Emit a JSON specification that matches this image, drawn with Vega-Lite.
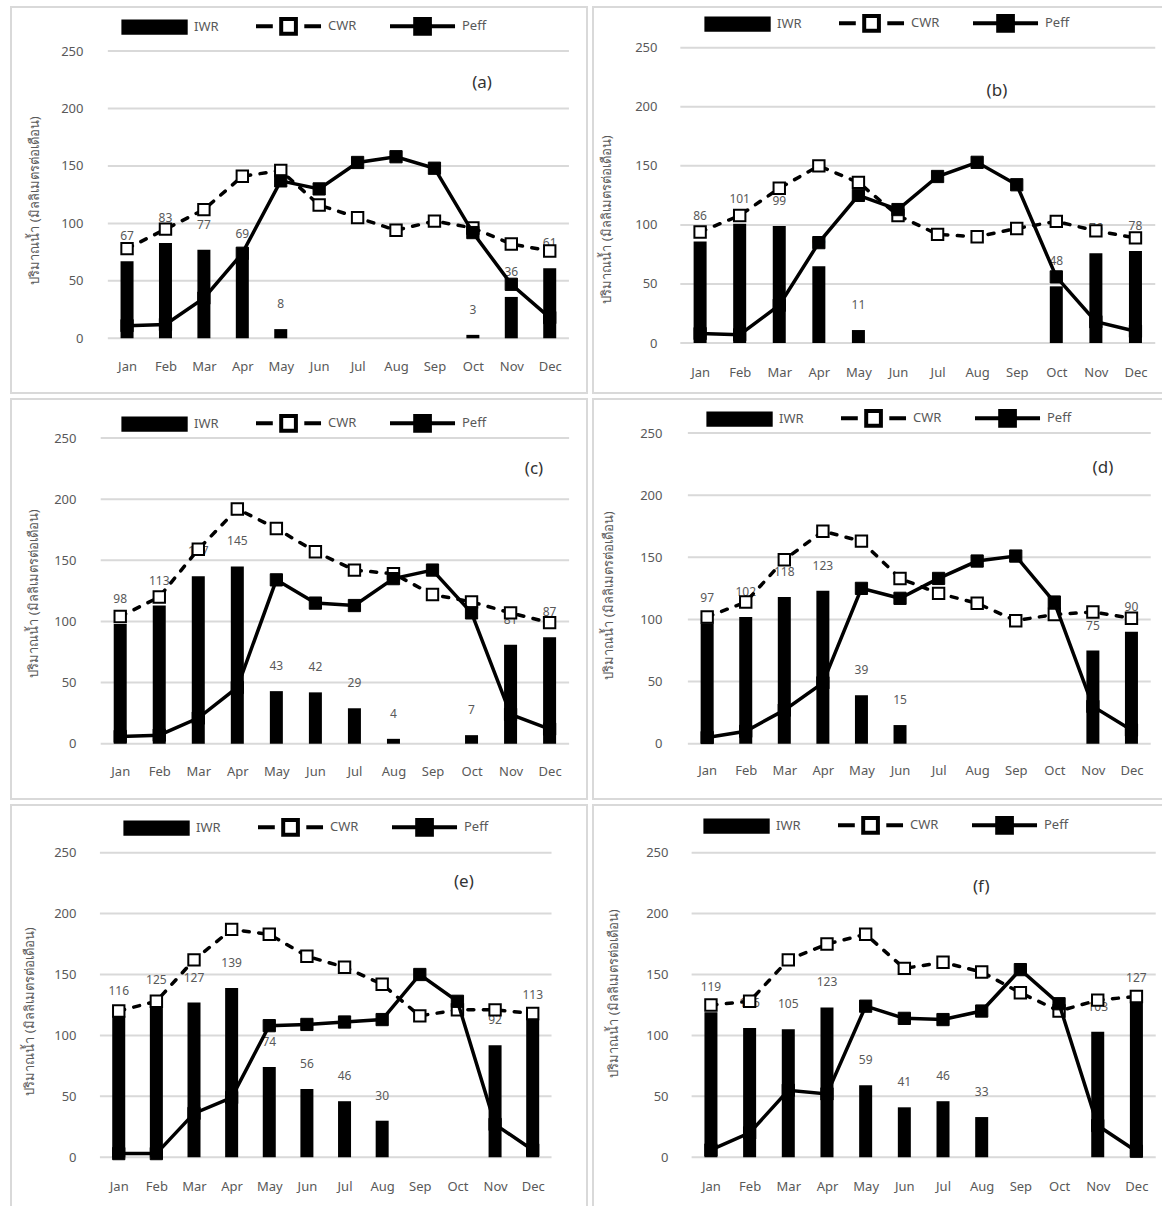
{
  "$schema": "https://vega.github.io/schema/vega-lite/v6.json",
  "padding": {"left": 10, "top": 6, "right": 0, "bottom": 0},
  "background": "white",
  "columns": 2,
  "align": "each",
  "spacing": {"row": 4, "column": 4},
  "resolve": {"scale": {"shape": "independent", "fill": "independent", "stroke": "independent"}, "legend": {"shape": "independent", "fill": "independent", "stroke": "independent"}},
  "config": {
    "font": "Noto Sans",
    "view": {"stroke": "#d9d9d9", "strokeWidth": 2},
    "axis": {"domain": false, "ticks": false, "grid": false, "labelPadding": 0, "labelColor": "#595959", "labelFontSize": 13, "titleColor": "#595959", "titleFontSize": 13, "titleFontWeight": "normal"},
    "axisX": {"labelBaseline": "middle", "labelOverlap": false, "labelFontSize": 13},
    "axisY": {"titleBaseline": "middle", "titleAlign": "center"},
    "legend": {"orient": "none", "direction": "horizontal", "title": null, "symbolSize": 196, "labelFontSize": 13, "labelColor": "#595959", "labelOffset": 56, "columnPadding": 25, "gridAlign": "all", "padding": 0, "symbolOpacity": 1, "symbolStrokeWidth": 4}
  },
  "concat": [
    {
      "width": 576, "height": 386,
      "data": {"values": [
        {"m": 1, "iwr": 67, "cwr": 78, "peff": 11},
        {"m": 2, "iwr": 83, "cwr": 95, "peff": 12},
        {"m": 3, "iwr": 77, "cwr": 112, "peff": 35},
        {"m": 4, "iwr": 69, "cwr": 141, "peff": 74},
        {"m": 5, "iwr": 8, "cwr": 146, "peff": 137},
        {"m": 6, "iwr": 0, "cwr": 116, "peff": 130},
        {"m": 7, "iwr": 0, "cwr": 105, "peff": 153},
        {"m": 8, "iwr": 0, "cwr": 94, "peff": 158},
        {"m": 9, "iwr": 0, "cwr": 102, "peff": 148},
        {"m": 10, "iwr": 3, "cwr": 96, "peff": 92},
        {"m": 11, "iwr": 36, "cwr": 82, "peff": 47},
        {"m": 12, "iwr": 61, "cwr": 76, "peff": 18}
      ]},
      "layer": [
        {"data": {"values": [{"g": 0}, {"g": 50}, {"g": 100}, {"g": 150}, {"g": 200}, {"g": 250}]},
         "mark": {"type": "rule", "color": "#d9d9d9", "strokeWidth": 2},
         "encoding": {
           "x": {"datum": 0.5, "type": "quantitative", "scale": {"domain": [-1.89, 12.84], "nice": false, "zero": false},
                 "axis": {"values": [1,2,3,4,5,6,7,8,9,10,11,12], "labelExpr": "['Jan','Feb','Mar','Apr','May','Jun','Jul','Aug','Sep','Oct','Nov','Dec'][datum.value - 1]", "offset": -27, "title": null}},
           "x2": {"datum": 12.5},
           "y": {"field": "g", "type": "quantitative", "scale": {"domain": [-47.6, 288.3], "nice": false, "zero": false},
                 "axis": {"values": [0,50,100,150,200,250], "offset": -72, "title": "ปริมาณน้ำ (มิลลิเมตรต่อเดือน)", "titleX": -49, "titleY": 193}}
         }},
        {"mark": {"type": "bar", "color": "black", "width": 13, "orient": "vertical"},
         "encoding": {"x": {"field": "m", "type": "quantitative"}, "y": {"field": "iwr", "type": "quantitative"}}},
        {"transform": [{"filter": "datum.iwr > 0"}],
         "mark": {"type": "text", "dy": -25, "fontSize": 12, "color": "#595959"},
         "encoding": {"x": {"field": "m", "type": "quantitative"}, "y": {"field": "iwr", "type": "quantitative"}, "text": {"field": "iwr"}}},
        {"mark": {"type": "line", "color": "black", "strokeWidth": 3.5, "strokeDash": [6, 9.5], "strokeCap": "round"},
         "encoding": {"x": {"field": "m", "type": "quantitative"}, "y": {"field": "cwr", "type": "quantitative"}}},
        {"mark": {"type": "point", "shape": "square", "filled": true, "fill": "white", "stroke": "black", "strokeWidth": 2, "size": 130, "opacity": 1},
         "encoding": {"x": {"field": "m", "type": "quantitative"}, "y": {"field": "cwr", "type": "quantitative"}}},
        {"mark": {"type": "line", "color": "black", "strokeWidth": 3.5},
         "encoding": {"x": {"field": "m", "type": "quantitative"}, "y": {"field": "peff", "type": "quantitative"}}},
        {"mark": {"type": "point", "shape": "square", "filled": true, "fill": "black", "stroke": "black", "strokeWidth": 1, "size": 150, "opacity": 1},
         "encoding": {"x": {"field": "m", "type": "quantitative"}, "y": {"field": "peff", "type": "quantitative"}}},
        {"data": {"values": [{"t": "(a)"}]},
         "mark": {"type": "text", "fontSize": 17, "color": "#333333"},
         "encoding": {"x": {"datum": 10.24, "type": "quantitative"}, "y": {"datum": 222, "type": "quantitative"}, "text": {"field": "t"}}},
        {"data": {"values": []},
         "mark": {"type": "point", "filled": true, "opacity": 1},
         "encoding": {
           "shape": {"field": "s", "type": "nominal", "scale": {"domain": ["IWR", "CWR", "Peff"], "range": ["M-0.8,-0.8H8.1V0.8H-0.8Z", "M-1,0H1.4M5.9,0H8.29M2.6,-1.05H4.7V1.05H2.6Z", "M-1,0H8.29M2.6,-1.05H4.7V1.05H2.6Z"]},
                     "legend": {"legendX": 109, "legendY": 10}},
           "fill": {"field": "s", "type": "nominal", "scale": {"domain": ["IWR", "CWR", "Peff"], "range": ["black", "white", "black"]},
                    "legend": {"legendX": 109, "legendY": 10}},
           "stroke": {"field": "s", "type": "nominal", "scale": {"domain": ["IWR", "CWR", "Peff"], "range": ["black", "black", "black"]},
                    "legend": {"legendX": 109, "legendY": 10}}
         }}
      ]
    },
    {
      "width": 572, "height": 386,
      "data": {"values": [
        {"m": 1, "iwr": 86, "cwr": 94, "peff": 8},
        {"m": 2, "iwr": 101, "cwr": 108, "peff": 7},
        {"m": 3, "iwr": 99, "cwr": 131, "peff": 32},
        {"m": 4, "iwr": 65, "cwr": 150, "peff": 85},
        {"m": 5, "iwr": 11, "cwr": 136, "peff": 125},
        {"m": 6, "iwr": 0, "cwr": 108, "peff": 113},
        {"m": 7, "iwr": 0, "cwr": 92, "peff": 141},
        {"m": 8, "iwr": 0, "cwr": 90, "peff": 153},
        {"m": 9, "iwr": 0, "cwr": 97, "peff": 134},
        {"m": 10, "iwr": 48, "cwr": 103, "peff": 56},
        {"m": 11, "iwr": 76, "cwr": 95, "peff": 18},
        {"m": 12, "iwr": 78, "cwr": 89, "peff": 10}
      ]},
      "layer": [
        {"data": {"values": [{"g": 0}, {"g": 50}, {"g": 100}, {"g": 150}, {"g": 200}, {"g": 250}]},
         "mark": {"type": "rule", "color": "#d9d9d9", "strokeWidth": 2},
         "encoding": {
           "x": {"datum": 0.5, "type": "quantitative", "scale": {"domain": [-1.58, 12.62], "nice": false, "zero": false},
                 "axis": {"values": [1,2,3,4,5,6,7,8,9,10,11,12], "labelExpr": "['Jan','Feb','Mar','Apr','May','Jun','Jul','Aug','Sep','Oct','Nov','Dec'][datum.value - 1]", "offset": -21, "title": null}},
           "x2": {"datum": 12.5},
           "y": {"field": "g", "type": "quantitative", "scale": {"domain": [-42.3, 284.5], "nice": false, "zero": false},
                 "axis": {"values": [0,50,100,150,200,250], "offset": -64, "title": "ปริมาณน้ำ (มิลลิเมตรต่อเดือน)", "titleX": -51, "titleY": 212}}
         }},
        {"mark": {"type": "bar", "color": "black", "width": 13, "orient": "vertical"},
         "encoding": {"x": {"field": "m", "type": "quantitative"}, "y": {"field": "iwr", "type": "quantitative"}}},
        {"transform": [{"filter": "datum.iwr > 0"}],
         "mark": {"type": "text", "dy": -25, "fontSize": 12, "color": "#595959"},
         "encoding": {"x": {"field": "m", "type": "quantitative"}, "y": {"field": "iwr", "type": "quantitative"}, "text": {"field": "iwr"}}},
        {"mark": {"type": "line", "color": "black", "strokeWidth": 3.5, "strokeDash": [6, 9.5], "strokeCap": "round"},
         "encoding": {"x": {"field": "m", "type": "quantitative"}, "y": {"field": "cwr", "type": "quantitative"}}},
        {"mark": {"type": "point", "shape": "square", "filled": true, "fill": "white", "stroke": "black", "strokeWidth": 2, "size": 130, "opacity": 1},
         "encoding": {"x": {"field": "m", "type": "quantitative"}, "y": {"field": "cwr", "type": "quantitative"}}},
        {"mark": {"type": "line", "color": "black", "strokeWidth": 3.5},
         "encoding": {"x": {"field": "m", "type": "quantitative"}, "y": {"field": "peff", "type": "quantitative"}}},
        {"mark": {"type": "point", "shape": "square", "filled": true, "fill": "black", "stroke": "black", "strokeWidth": 1, "size": 150, "opacity": 1},
         "encoding": {"x": {"field": "m", "type": "quantitative"}, "y": {"field": "peff", "type": "quantitative"}}},
        {"data": {"values": [{"t": "(b)"}]},
         "mark": {"type": "text", "fontSize": 17, "color": "#333333"},
         "encoding": {"x": {"datum": 8.5, "type": "quantitative"}, "y": {"datum": 213, "type": "quantitative"}, "text": {"field": "t"}}},
        {"data": {"values": []},
         "mark": {"type": "point", "filled": true, "opacity": 1},
         "encoding": {
           "shape": {"field": "s", "type": "nominal", "scale": {"domain": ["IWR", "CWR", "Peff"], "range": ["M-0.8,-0.8H8.1V0.8H-0.8Z", "M-1,0H1.4M5.9,0H8.29M2.6,-1.05H4.7V1.05H2.6Z", "M-1,0H8.29M2.6,-1.05H4.7V1.05H2.6Z"]},
                     "legend": {"legendX": 110, "legendY": 7}},
           "fill": {"field": "s", "type": "nominal", "scale": {"domain": ["IWR", "CWR", "Peff"], "range": ["black", "white", "black"]},
                    "legend": {"legendX": 110, "legendY": 7}},
           "stroke": {"field": "s", "type": "nominal", "scale": {"domain": ["IWR", "CWR", "Peff"], "range": ["black", "black", "black"]},
                    "legend": {"legendX": 110, "legendY": 7}}
         }}
      ]
    },
    {
      "width": 576, "height": 400,
      "data": {"values": [
        {"m": 1, "iwr": 98, "cwr": 104, "peff": 6},
        {"m": 2, "iwr": 113, "cwr": 120, "peff": 7},
        {"m": 3, "iwr": 137, "cwr": 159, "peff": 21},
        {"m": 4, "iwr": 145, "cwr": 192, "peff": 46},
        {"m": 5, "iwr": 43, "cwr": 176, "peff": 134},
        {"m": 6, "iwr": 42, "cwr": 157, "peff": 115},
        {"m": 7, "iwr": 29, "cwr": 142, "peff": 113},
        {"m": 8, "iwr": 4, "cwr": 139, "peff": 135},
        {"m": 9, "iwr": 0, "cwr": 122, "peff": 142},
        {"m": 10, "iwr": 7, "cwr": 116, "peff": 107},
        {"m": 11, "iwr": 81, "cwr": 107, "peff": 24},
        {"m": 12, "iwr": 87, "cwr": 99, "peff": 12}
      ]},
      "layer": [
        {"data": {"values": [{"g": 0}, {"g": 50}, {"g": 100}, {"g": 150}, {"g": 200}, {"g": 250}]},
         "mark": {"type": "rule", "color": "#d9d9d9", "strokeWidth": 2},
         "encoding": {
           "x": {"datum": 0.5, "type": "quantitative", "scale": {"domain": [-1.67, 12.83], "nice": false, "zero": false},
                 "axis": {"values": [1,2,3,4,5,6,7,8,9,10,11,12], "labelExpr": "['Jan','Feb','Mar','Apr','May','Jun','Jul','Aug','Sep','Oct','Nov','Dec'][datum.value - 1]", "offset": -28, "title": null}},
           "x2": {"datum": 12.5},
           "y": {"field": "g", "type": "quantitative", "scale": {"domain": [-45.2, 281.9], "nice": false, "zero": false},
                 "axis": {"values": [0,50,100,150,200,250], "offset": -65, "title": "ปริมาณน้ำ (มิลลิเมตรต่อเดือน)", "titleX": -43, "titleY": 194}}
         }},
        {"mark": {"type": "bar", "color": "black", "width": 13, "orient": "vertical"},
         "encoding": {"x": {"field": "m", "type": "quantitative"}, "y": {"field": "iwr", "type": "quantitative"}}},
        {"transform": [{"filter": "datum.iwr > 0"}],
         "mark": {"type": "text", "dy": -25, "fontSize": 12, "color": "#595959"},
         "encoding": {"x": {"field": "m", "type": "quantitative"}, "y": {"field": "iwr", "type": "quantitative"}, "text": {"field": "iwr"}}},
        {"mark": {"type": "line", "color": "black", "strokeWidth": 3.5, "strokeDash": [6, 9.5], "strokeCap": "round"},
         "encoding": {"x": {"field": "m", "type": "quantitative"}, "y": {"field": "cwr", "type": "quantitative"}}},
        {"mark": {"type": "point", "shape": "square", "filled": true, "fill": "white", "stroke": "black", "strokeWidth": 2, "size": 130, "opacity": 1},
         "encoding": {"x": {"field": "m", "type": "quantitative"}, "y": {"field": "cwr", "type": "quantitative"}}},
        {"mark": {"type": "line", "color": "black", "strokeWidth": 3.5},
         "encoding": {"x": {"field": "m", "type": "quantitative"}, "y": {"field": "peff", "type": "quantitative"}}},
        {"mark": {"type": "point", "shape": "square", "filled": true, "fill": "black", "stroke": "black", "strokeWidth": 1, "size": 150, "opacity": 1},
         "encoding": {"x": {"field": "m", "type": "quantitative"}, "y": {"field": "peff", "type": "quantitative"}}},
        {"data": {"values": [{"t": "(c)"}]},
         "mark": {"type": "text", "fontSize": 17, "color": "#333333"},
         "encoding": {"x": {"datum": 11.6, "type": "quantitative"}, "y": {"datum": 225, "type": "quantitative"}, "text": {"field": "t"}}},
        {"data": {"values": []},
         "mark": {"type": "point", "filled": true, "opacity": 1},
         "encoding": {
           "shape": {"field": "s", "type": "nominal", "scale": {"domain": ["IWR", "CWR", "Peff"], "range": ["M-0.8,-0.8H8.1V0.8H-0.8Z", "M-1,0H1.4M5.9,0H8.29M2.6,-1.05H4.7V1.05H2.6Z", "M-1,0H8.29M2.6,-1.05H4.7V1.05H2.6Z"]},
                     "legend": {"legendX": 109, "legendY": 15}},
           "fill": {"field": "s", "type": "nominal", "scale": {"domain": ["IWR", "CWR", "Peff"], "range": ["black", "white", "black"]},
                    "legend": {"legendX": 109, "legendY": 15}},
           "stroke": {"field": "s", "type": "nominal", "scale": {"domain": ["IWR", "CWR", "Peff"], "range": ["black", "black", "black"]},
                    "legend": {"legendX": 109, "legendY": 15}}
         }}
      ]
    },
    {
      "width": 572, "height": 400,
      "data": {"values": [
        {"m": 1, "iwr": 97, "cwr": 102, "peff": 5},
        {"m": 2, "iwr": 102, "cwr": 114, "peff": 10},
        {"m": 3, "iwr": 118, "cwr": 148, "peff": 27},
        {"m": 4, "iwr": 123, "cwr": 171, "peff": 49},
        {"m": 5, "iwr": 39, "cwr": 163, "peff": 125},
        {"m": 6, "iwr": 15, "cwr": 133, "peff": 117},
        {"m": 7, "iwr": 0, "cwr": 121, "peff": 133},
        {"m": 8, "iwr": 0, "cwr": 113, "peff": 147},
        {"m": 9, "iwr": 0, "cwr": 99, "peff": 151},
        {"m": 10, "iwr": 0, "cwr": 104, "peff": 114},
        {"m": 11, "iwr": 75, "cwr": 106, "peff": 30},
        {"m": 12, "iwr": 90, "cwr": 101, "peff": 11}
      ]},
      "layer": [
        {"data": {"values": [{"g": 0}, {"g": 50}, {"g": 100}, {"g": 150}, {"g": 200}, {"g": 250}]},
         "mark": {"type": "rule", "color": "#d9d9d9", "strokeWidth": 2},
         "encoding": {
           "x": {"datum": 0.5, "type": "quantitative", "scale": {"domain": [-1.83, 12.74], "nice": false, "zero": false},
                 "axis": {"values": [1,2,3,4,5,6,7,8,9,10,11,12], "labelExpr": "['Jan','Feb','Mar','Apr','May','Jun','Jul','Aug','Sep','Oct','Nov','Dec'][datum.value - 1]", "offset": -29, "title": null}},
           "x2": {"datum": 12.5},
           "y": {"field": "g", "type": "quantitative", "scale": {"domain": [-44.5, 277.4], "nice": false, "zero": false},
                 "axis": {"values": [0,50,100,150,200,250], "offset": -69, "title": "ปริมาณน้ำ (มิลลิเมตรต่อเดือน)", "titleX": -54, "titleY": 196}}
         }},
        {"mark": {"type": "bar", "color": "black", "width": 13, "orient": "vertical"},
         "encoding": {"x": {"field": "m", "type": "quantitative"}, "y": {"field": "iwr", "type": "quantitative"}}},
        {"transform": [{"filter": "datum.iwr > 0"}],
         "mark": {"type": "text", "dy": -25, "fontSize": 12, "color": "#595959"},
         "encoding": {"x": {"field": "m", "type": "quantitative"}, "y": {"field": "iwr", "type": "quantitative"}, "text": {"field": "iwr"}}},
        {"mark": {"type": "line", "color": "black", "strokeWidth": 3.5, "strokeDash": [6, 9.5], "strokeCap": "round"},
         "encoding": {"x": {"field": "m", "type": "quantitative"}, "y": {"field": "cwr", "type": "quantitative"}}},
        {"mark": {"type": "point", "shape": "square", "filled": true, "fill": "white", "stroke": "black", "strokeWidth": 2, "size": 130, "opacity": 1},
         "encoding": {"x": {"field": "m", "type": "quantitative"}, "y": {"field": "cwr", "type": "quantitative"}}},
        {"mark": {"type": "line", "color": "black", "strokeWidth": 3.5},
         "encoding": {"x": {"field": "m", "type": "quantitative"}, "y": {"field": "peff", "type": "quantitative"}}},
        {"mark": {"type": "point", "shape": "square", "filled": true, "fill": "black", "stroke": "black", "strokeWidth": 1, "size": 150, "opacity": 1},
         "encoding": {"x": {"field": "m", "type": "quantitative"}, "y": {"field": "peff", "type": "quantitative"}}},
        {"data": {"values": [{"t": "(d)"}]},
         "mark": {"type": "text", "fontSize": 17, "color": "#333333"},
         "encoding": {"x": {"datum": 11.26, "type": "quantitative"}, "y": {"datum": 222, "type": "quantitative"}, "text": {"field": "t"}}},
        {"data": {"values": []},
         "mark": {"type": "point", "filled": true, "opacity": 1},
         "encoding": {
           "shape": {"field": "s", "type": "nominal", "scale": {"domain": ["IWR", "CWR", "Peff"], "range": ["M-0.8,-0.8H8.1V0.8H-0.8Z", "M-1,0H1.4M5.9,0H8.29M2.6,-1.05H4.7V1.05H2.6Z", "M-1,0H8.29M2.6,-1.05H4.7V1.05H2.6Z"]},
                     "legend": {"legendX": 112, "legendY": 10}},
           "fill": {"field": "s", "type": "nominal", "scale": {"domain": ["IWR", "CWR", "Peff"], "range": ["black", "white", "black"]},
                    "legend": {"legendX": 112, "legendY": 10}},
           "stroke": {"field": "s", "type": "nominal", "scale": {"domain": ["IWR", "CWR", "Peff"], "range": ["black", "black", "black"]},
                    "legend": {"legendX": 112, "legendY": 10}}
         }}
      ]
    },
    {
      "width": 576, "height": 406,
      "data": {"values": [
        {"m": 1, "iwr": 116, "cwr": 120, "peff": 3},
        {"m": 2, "iwr": 125, "cwr": 128, "peff": 3},
        {"m": 3, "iwr": 127, "cwr": 162, "peff": 36},
        {"m": 4, "iwr": 139, "cwr": 187, "peff": 49},
        {"m": 5, "iwr": 74, "cwr": 183, "peff": 108},
        {"m": 6, "iwr": 56, "cwr": 165, "peff": 109},
        {"m": 7, "iwr": 46, "cwr": 156, "peff": 111},
        {"m": 8, "iwr": 30, "cwr": 142, "peff": 113},
        {"m": 9, "iwr": 0, "cwr": 116, "peff": 150},
        {"m": 10, "iwr": 0, "cwr": 121, "peff": 128},
        {"m": 11, "iwr": 92, "cwr": 121, "peff": 27},
        {"m": 12, "iwr": 113, "cwr": 118, "peff": 6}
      ]},
      "layer": [
        {"data": {"values": [{"g": 0}, {"g": 50}, {"g": 100}, {"g": 150}, {"g": 200}, {"g": 250}]},
         "mark": {"type": "rule", "color": "#d9d9d9", "strokeWidth": 2},
         "encoding": {
           "x": {"datum": 0.5, "type": "quantitative", "scale": {"domain": [-1.73, 13.31], "nice": false, "zero": false},
                 "axis": {"values": [1,2,3,4,5,6,7,8,9,10,11,12], "labelExpr": "['Jan','Feb','Mar','Apr','May','Jun','Jul','Aug','Sep','Oct','Nov','Dec'][datum.value - 1]", "offset": -25, "title": null}},
           "x2": {"datum": 12.5},
           "y": {"field": "g", "type": "quantitative", "scale": {"domain": [-44.1, 289.1], "nice": false, "zero": false},
                 "axis": {"values": [0,50,100,150,200,250], "offset": -65, "title": "ปริมาณน้ำ (มิลลิเมตรต่อเดือน)", "titleX": -47, "titleY": 206}}
         }},
        {"mark": {"type": "bar", "color": "black", "width": 13, "orient": "vertical"},
         "encoding": {"x": {"field": "m", "type": "quantitative"}, "y": {"field": "iwr", "type": "quantitative"}}},
        {"transform": [{"filter": "datum.iwr > 0"}],
         "mark": {"type": "text", "dy": -25, "fontSize": 12, "color": "#595959"},
         "encoding": {"x": {"field": "m", "type": "quantitative"}, "y": {"field": "iwr", "type": "quantitative"}, "text": {"field": "iwr"}}},
        {"mark": {"type": "line", "color": "black", "strokeWidth": 3.5, "strokeDash": [6, 9.5], "strokeCap": "round"},
         "encoding": {"x": {"field": "m", "type": "quantitative"}, "y": {"field": "cwr", "type": "quantitative"}}},
        {"mark": {"type": "point", "shape": "square", "filled": true, "fill": "white", "stroke": "black", "strokeWidth": 2, "size": 130, "opacity": 1},
         "encoding": {"x": {"field": "m", "type": "quantitative"}, "y": {"field": "cwr", "type": "quantitative"}}},
        {"mark": {"type": "line", "color": "black", "strokeWidth": 3.5},
         "encoding": {"x": {"field": "m", "type": "quantitative"}, "y": {"field": "peff", "type": "quantitative"}}},
        {"mark": {"type": "point", "shape": "square", "filled": true, "fill": "black", "stroke": "black", "strokeWidth": 1, "size": 150, "opacity": 1},
         "encoding": {"x": {"field": "m", "type": "quantitative"}, "y": {"field": "peff", "type": "quantitative"}}},
        {"data": {"values": [{"t": "(e)"}]},
         "mark": {"type": "text", "fontSize": 17, "color": "#333333"},
         "encoding": {"x": {"datum": 10.17, "type": "quantitative"}, "y": {"datum": 226, "type": "quantitative"}, "text": {"field": "t"}}},
        {"data": {"values": []},
         "mark": {"type": "point", "filled": true, "opacity": 1},
         "encoding": {
           "shape": {"field": "s", "type": "nominal", "scale": {"domain": ["IWR", "CWR", "Peff"], "range": ["M-0.8,-0.8H8.1V0.8H-0.8Z", "M-1,0H1.4M5.9,0H8.29M2.6,-1.05H4.7V1.05H2.6Z", "M-1,0H8.29M2.6,-1.05H4.7V1.05H2.6Z"]},
                     "legend": {"legendX": 111, "legendY": 13}},
           "fill": {"field": "s", "type": "nominal", "scale": {"domain": ["IWR", "CWR", "Peff"], "range": ["black", "white", "black"]},
                    "legend": {"legendX": 111, "legendY": 13}},
           "stroke": {"field": "s", "type": "nominal", "scale": {"domain": ["IWR", "CWR", "Peff"], "range": ["black", "black", "black"]},
                    "legend": {"legendX": 111, "legendY": 13}}
         }}
      ]
    },
    {
      "width": 572, "height": 406,
      "data": {"values": [
        {"m": 1, "iwr": 119, "cwr": 125, "peff": 6},
        {"m": 2, "iwr": 106, "cwr": 128, "peff": 20},
        {"m": 3, "iwr": 105, "cwr": 162, "peff": 55},
        {"m": 4, "iwr": 123, "cwr": 175, "peff": 52},
        {"m": 5, "iwr": 59, "cwr": 183, "peff": 124},
        {"m": 6, "iwr": 41, "cwr": 155, "peff": 114},
        {"m": 7, "iwr": 46, "cwr": 160, "peff": 113},
        {"m": 8, "iwr": 33, "cwr": 152, "peff": 120},
        {"m": 9, "iwr": 0, "cwr": 135, "peff": 154},
        {"m": 10, "iwr": 0, "cwr": 120, "peff": 126},
        {"m": 11, "iwr": 103, "cwr": 129, "peff": 26},
        {"m": 12, "iwr": 127, "cwr": 132, "peff": 5}
      ]},
      "layer": [
        {"data": {"values": [{"g": 0}, {"g": 50}, {"g": 100}, {"g": 150}, {"g": 200}, {"g": 250}]},
         "mark": {"type": "rule", "color": "#d9d9d9", "strokeWidth": 2},
         "encoding": {
           "x": {"datum": 0.5, "type": "quantitative", "scale": {"domain": [-1.92, 12.61], "nice": false, "zero": false},
                 "axis": {"values": [1,2,3,4,5,6,7,8,9,10,11,12], "labelExpr": "['Jan','Feb','Mar','Apr','May','Jun','Jul','Aug','Sep','Oct','Nov','Dec'][datum.value - 1]", "offset": -25, "title": null}},
           "x2": {"datum": 12.5},
           "y": {"field": "g", "type": "quantitative", "scale": {"domain": [-44.1, 289.1], "nice": false, "zero": false},
                 "axis": {"values": [0,50,100,150,200,250], "offset": -75, "title": "ปริมาณน้ำ (มิลลิเมตรต่อเดือน)", "titleX": -55, "titleY": 188}}
         }},
        {"mark": {"type": "bar", "color": "black", "width": 13, "orient": "vertical"},
         "encoding": {"x": {"field": "m", "type": "quantitative"}, "y": {"field": "iwr", "type": "quantitative"}}},
        {"transform": [{"filter": "datum.iwr > 0"}],
         "mark": {"type": "text", "dy": -25, "fontSize": 12, "color": "#595959"},
         "encoding": {"x": {"field": "m", "type": "quantitative"}, "y": {"field": "iwr", "type": "quantitative"}, "text": {"field": "iwr"}}},
        {"mark": {"type": "line", "color": "black", "strokeWidth": 3.5, "strokeDash": [6, 9.5], "strokeCap": "round"},
         "encoding": {"x": {"field": "m", "type": "quantitative"}, "y": {"field": "cwr", "type": "quantitative"}}},
        {"mark": {"type": "point", "shape": "square", "filled": true, "fill": "white", "stroke": "black", "strokeWidth": 2, "size": 130, "opacity": 1},
         "encoding": {"x": {"field": "m", "type": "quantitative"}, "y": {"field": "cwr", "type": "quantitative"}}},
        {"mark": {"type": "line", "color": "black", "strokeWidth": 3.5},
         "encoding": {"x": {"field": "m", "type": "quantitative"}, "y": {"field": "peff", "type": "quantitative"}}},
        {"mark": {"type": "point", "shape": "square", "filled": true, "fill": "black", "stroke": "black", "strokeWidth": 1, "size": 150, "opacity": 1},
         "encoding": {"x": {"field": "m", "type": "quantitative"}, "y": {"field": "peff", "type": "quantitative"}}},
        {"data": {"values": [{"t": "(f)"}]},
         "mark": {"type": "text", "fontSize": 17, "color": "#333333"},
         "encoding": {"x": {"datum": 7.99, "type": "quantitative"}, "y": {"datum": 222, "type": "quantitative"}, "text": {"field": "t"}}},
        {"data": {"values": []},
         "mark": {"type": "point", "filled": true, "opacity": 1},
         "encoding": {
           "shape": {"field": "s", "type": "nominal", "scale": {"domain": ["IWR", "CWR", "Peff"], "range": ["M-0.8,-0.8H8.1V0.8H-0.8Z", "M-1,0H1.4M5.9,0H8.29M2.6,-1.05H4.7V1.05H2.6Z", "M-1,0H8.29M2.6,-1.05H4.7V1.05H2.6Z"]},
                     "legend": {"legendX": 109, "legendY": 11}},
           "fill": {"field": "s", "type": "nominal", "scale": {"domain": ["IWR", "CWR", "Peff"], "range": ["black", "white", "black"]},
                    "legend": {"legendX": 109, "legendY": 11}},
           "stroke": {"field": "s", "type": "nominal", "scale": {"domain": ["IWR", "CWR", "Peff"], "range": ["black", "black", "black"]},
                    "legend": {"legendX": 109, "legendY": 11}}
         }}
      ]
    }
  ]
}
